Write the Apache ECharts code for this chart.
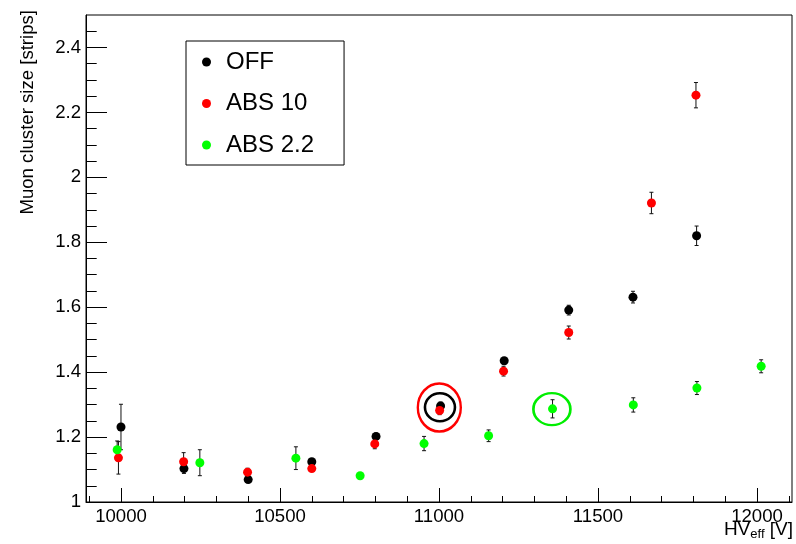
<!DOCTYPE html>
<html>
<head>
<meta charset="utf-8">
<script src="https://cdn.jsdelivr.net/npm/echarts@6/dist/echarts.min.js"></script>
<style>
  html, body { margin: 0; padding: 0; background: #fff; }
  #chart { width: 796px; height: 544px; }
</style>
</head>
<body>
<div id="chart"></div>
<script>
// OFF
var offX   = [10000, 10198, 10400, 10600, 10802, 11005, 11205, 11408, 11610, 11810];
var offY   = [1.231, 1.103, 1.069, 1.124, 1.202, 1.296, 1.435, 1.591, 1.631, 1.820];
var offErr = [0.070, 0.015, 0.008, 0.008, 0.010, 0.012, 0.010, 0.015, 0.018, 0.030];
// ABS 10
var abs10X   = [9992, 10197, 10398, 10600, 10798, 11002, 11203, 11408, 11668, 11808];
var abs10Y   = [1.136, 1.124, 1.092, 1.103, 1.179, 1.282, 1.403, 1.522, 1.921, 2.253];
var abs10Err = [0.050, 0.028, 0.012, 0.008, 0.015, 0.013, 0.015, 0.020, 0.033, 0.039];
// ABS 2.2
var abs22X   = [9988, 10248, 10550, 10752, 10953, 11156, 11357, 11611, 11811, 12013];
var abs22Y   = [1.161, 1.121, 1.135, 1.081, 1.180, 1.204, 1.287, 1.299, 1.351, 1.418];
var abs22Err = [0.027, 0.040, 0.035, 0.006, 0.022, 0.018, 0.028, 0.022, 0.020, 0.020];

// axis ticks
var xTicks = [10000, 10500, 11000, 11500, 12000];
var xMinorTicks = [9900, 10100, 10200, 10300, 10400, 10600, 10700, 10800, 10900,
                   11100, 11200, 11300, 11400, 11600, 11700, 11800, 11900, 12100];
var yTicks = [1, 1.2, 1.4, 1.6, 1.8, 2, 2.2, 2.4];
var yMinorTicks = [1.05, 1.1, 1.15, 1.25, 1.3, 1.35, 1.45, 1.5, 1.55, 1.65, 1.7, 1.75,
                   1.85, 1.9, 1.95, 2.05, 2.1, 2.15, 2.25, 2.3, 2.35, 2.45];

// highlighted points (circles drawn around them): [x, y]
var circleOff   = [11003, 1.292];
var circleAbs10 = [11001, 1.291];
var circleAbs22 = [11355, 1.286];

var FONT = 'Liberation Sans';
var chart = echarts.init(document.getElementById('chart'));

function zip(xs, ys, es) {
    return xs.map(function (x, i) { return es ? [x, ys[i], es[i]] : [x, ys[i]]; });
}

function errorSeries(xs, ys, es) {
    return {
        type: 'custom',
        data: zip(xs, ys, es),
        silent: true,
        renderItem: function (params, api) {
            var x = api.value(0), y = api.value(1), e = api.value(2);
            var hi = api.coord([x, y + e]);
            var lo = api.coord([x, y - e]);
            var cap = 2;
            var st = { stroke: '#111', lineWidth: 1 };
            return {
                type: 'group',
                children: [
                    { type: 'line', shape: { x1: hi[0], y1: hi[1], x2: lo[0], y2: lo[1] }, style: st },
                    { type: 'line', shape: { x1: hi[0] - cap, y1: hi[1], x2: hi[0] + cap, y2: hi[1] }, style: st },
                    { type: 'line', shape: { x1: lo[0] - cap, y1: lo[1], x2: lo[0] + cap, y2: lo[1] }, style: st }
                ]
            };
        }
    };
}

function circleMark(coord, size, color) {
    return {
        symbol: 'circle',
        silent: true,
        label: { show: false },
        data: [{
            coord: coord,
            symbolSize: size,
            itemStyle: { color: 'rgba(0,0,0,0)', borderColor: color, borderWidth: 2.5 }
        }]
    };
}

var option = {
    animation: false,
    textStyle: { fontFamily: FONT },
    // x axis title, bottom right as in ROOT
    title: {
        text: '{m|HV}{s|eff}{m| [V]}',
        right: 3, top: 518, padding: 0,
        textStyle: {
            fontWeight: 'normal',
            rich: {
                m: { fontFamily: FONT, fontSize: 19, fontWeight: 'normal', color: '#000' },
                s: { fontFamily: FONT, fontSize: 13, fontWeight: 'normal', color: '#000', padding: [10, 0, 0, 0] }
            }
        }
    },
    grid: {
        left: 86, right: 4, top: 15, bottom: 42,
        containLabel: false, outerBoundsMode: 'none',
        show: true, borderColor: '#000', borderWidth: 1, backgroundColor: 'transparent'
    },
    legend: {
        left: 186, top: 41,
        orient: 'vertical',
        data: ['OFF', 'ABS 10', 'ABS 2.2'],
        backgroundColor: '#fff',
        borderColor: '#000', borderWidth: 1,
        padding: [9, 30, 8, 16],
        itemWidth: 9, itemHeight: 9, itemGap: 17.5,
        icon: 'circle',
        textStyle: { fontFamily: FONT, fontSize: 24, color: '#000', lineHeight: 24, padding: [0, 0, 0, 10] }
    },
    xAxis: [{
        type: 'value', min: 9890, max: 12110,
        axisLine: { lineStyle: { color: '#000', width: 1 } },
        axisTick: { inside: true, length: 14, customValues: xTicks, lineStyle: { color: '#000' } },
        axisLabel: {
            customValues: xTicks, margin: 5, color: '#000', fontFamily: FONT, fontSize: 18.6,
            formatter: function (v) { return String(v); }
        },
        splitLine: { show: false }
    }, {
        type: 'value', min: 9890, max: 12110, position: 'bottom',
        axisLine: { show: false },
        axisTick: { inside: true, length: 6, customValues: xMinorTicks, lineStyle: { color: '#000' } },
        axisLabel: { show: false },
        splitLine: { show: false }
    }],
    yAxis: [{
        type: 'value', min: 1, max: 2.5,
        name: 'Muon cluster size [strips]',
        nameLocation: 'end', nameGap: 5, nameRotate: 90,
        nameTextStyle: {
            fontFamily: FONT, fontSize: 18.6, color: '#000',
            align: 'right', verticalAlign: 'bottom', padding: [0, 0, 49, 0]
        },
        axisLine: { lineStyle: { color: '#000', width: 1 } },
        axisTick: { inside: true, length: 21, customValues: yTicks, lineStyle: { color: '#000' } },
        axisLabel: {
            customValues: yTicks, margin: 5, color: '#000', fontFamily: FONT, fontSize: 18.6,
            formatter: function (v) { return String(+v.toFixed(2)); }
        },
        splitLine: { show: false }
    }, {
        type: 'value', min: 1, max: 2.5, position: 'left',
        axisLine: { show: false },
        axisTick: { inside: true, length: 10.7, customValues: yMinorTicks, lineStyle: { color: '#000' } },
        axisLabel: { show: false },
        splitLine: { show: false }
    }],
    series: [
        errorSeries(offX, offY, offErr),
        {
            name: 'OFF', type: 'scatter', symbolSize: 9,
            itemStyle: { color: '#000', opacity: 1 },
            data: zip(offX, offY),
            markPoint: circleMark(circleOff, [30, 28], '#000')
        },
        errorSeries(abs10X, abs10Y, abs10Err),
        {
            name: 'ABS 10', type: 'scatter', symbolSize: 9,
            itemStyle: { color: '#ff0000', opacity: 1 },
            data: zip(abs10X, abs10Y),
            markPoint: circleMark(circleAbs10, [43, 48], '#ff0000')
        },
        errorSeries(abs22X, abs22Y, abs22Err),
        {
            name: 'ABS 2.2', type: 'scatter', symbolSize: 9,
            itemStyle: { color: '#00ff00', opacity: 1 },
            data: zip(abs22X, abs22Y),
            markPoint: circleMark(circleAbs22, [37, 32], '#00ee00')
        }
    ]
};

chart.setOption(option);
</script>
</body>
</html>
